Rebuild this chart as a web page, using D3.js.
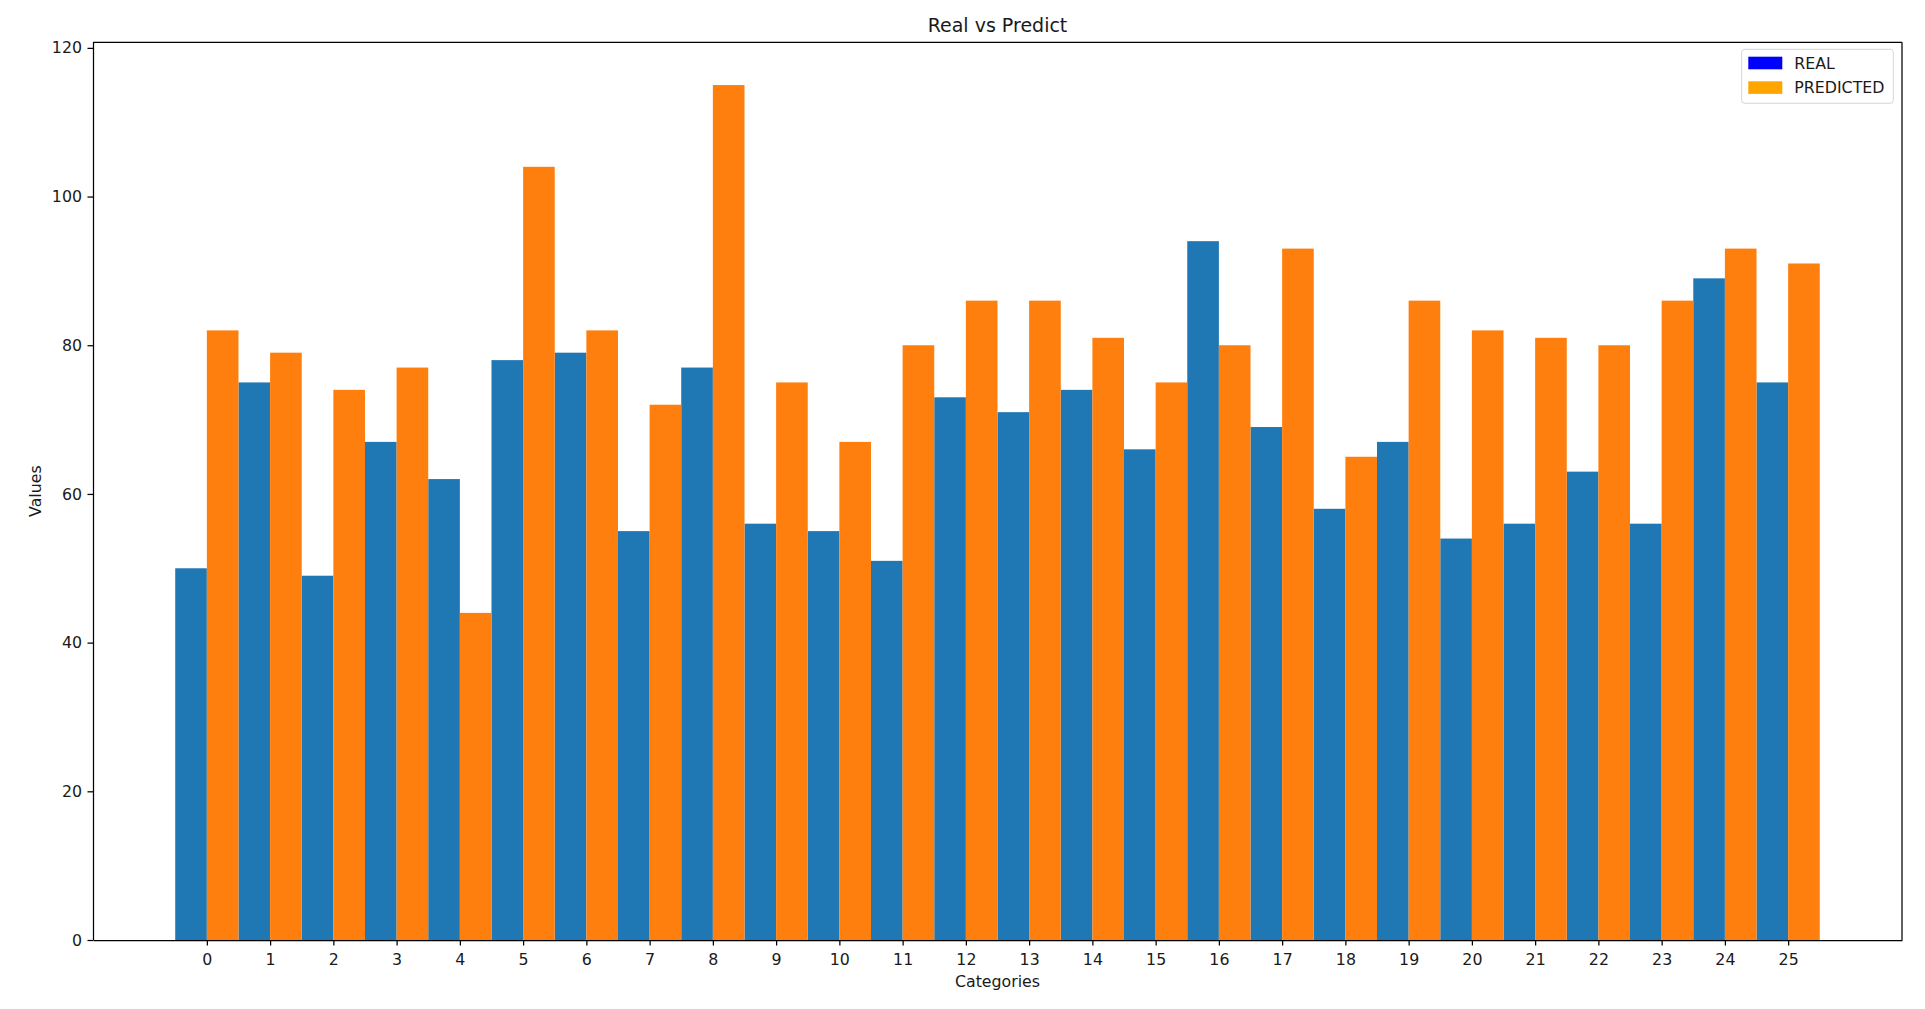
<!DOCTYPE html>
<html lang="en">
<head>
    <meta charset="UTF-8">
    <title>Real vs Predict</title>
    <script src="https://d3js.org/d3.v7.min.js"></script>
    <style>
        body {
            margin: 0;
            background: #fff;
            font-family: "DejaVu Sans", sans-serif;
        }
        .axis text {
            font-family: "DejaVu Sans", sans-serif;
            font-size: 15.8px;
            fill: #1a1a1a;
        }
        .axis path, .axis line {
            stroke: #000;
            stroke-width: 1.25px;
        }
        .label {
            font-size: 15.8px;
            fill: #1a1a1a;
        }
    </style>
</head>
<body>
    <div id="chart"></div>

    <script>
        const categories = [0, 1, 2, 3, 4, 5, 6, 7, 8, 9, 10, 11, 12, 13, 14, 15, 16, 17, 18, 19, 20, 21, 22, 23, 24, 25];
        const realValues = [50, 75, 49, 67, 62, 78, 79, 55, 77, 56, 55, 51, 73, 71, 74, 66, 94, 69, 58, 67, 54, 56, 63, 56, 89, 75];
        const predictedValues = [82, 79, 74, 77, 44, 104, 82, 72, 115, 75, 67, 80, 86, 86, 81, 75, 80, 93, 65, 86, 82, 81, 80, 86, 93, 91];
        const yTicks = [0, 20, 40, 60, 80, 100, 120];

        const W = 1925, H = 1009;
        const plotLeft = 93, plotRight = 1902, plotTop = 42.3, plotBottom = 940;

        const svg = d3.select('#chart')
            .append('svg')
            .attr('width', W)
            .attr('height', H);

        // matplotlib-style limits: 5% margin around the bars
        const x = d3.scaleLinear()
            .domain([-1.8, 26.8])
            .range([plotLeft, plotRight]);
        const y = d3.scaleLinear()
            .domain([0, 120.75])
            .range([plotBottom, plotTop]);

        // Bars: REAL on the left half, PREDICTED on the right half
        svg.append('g').selectAll('rect')
            .data(categories)
            .enter().append('rect')
            .attr('x', d => x(d - 0.5))
            .attr('y', (d, i) => y(realValues[i]))
            .attr('width', d => x(d) - x(d - 0.5))
            .attr('height', (d, i) => plotBottom - y(realValues[i]))
            .attr('fill', '#1f77b4');

        svg.append('g').selectAll('rect')
            .data(categories)
            .enter().append('rect')
            .attr('x', d => x(d))
            .attr('y', (d, i) => y(predictedValues[i]))
            .attr('width', d => x(d + 0.5) - x(d))
            .attr('height', (d, i) => plotBottom - y(predictedValues[i]))
            .attr('fill', '#ff7f0e');

        // Axes
        svg.append('g')
            .attr('class', 'axis')
            .attr('transform', `translate(0, ${plotBottom})`)
            .call(d3.axisBottom(x).tickValues(categories).tickSize(5.5).tickSizeOuter(0).tickPadding(8.3));
        svg.append('g')
            .attr('class', 'axis')
            .attr('transform', `translate(${plotLeft}, 0)`)
            .call(d3.axisLeft(y).tickValues(yTicks).tickSize(5.5).tickSizeOuter(0).tickPadding(5.5));

        // top and right spines
        svg.append('line')
            .attr('x1', plotLeft).attr('x2', plotRight).attr('y1', plotTop).attr('y2', plotTop)
            .attr('stroke', '#000').attr('stroke-width', 1.25);
        svg.append('line')
            .attr('x1', plotRight).attr('x2', plotRight).attr('y1', plotTop).attr('y2', plotBottom)
            .attr('stroke', '#000').attr('stroke-width', 1.25);

        // Title and axis labels
        svg.append('text')
            .attr('x', (plotLeft + plotRight) / 2)
            .attr('y', 32)
            .attr('text-anchor', 'middle')
            .style('font-size', '19px')
            .style('fill', '#1a1a1a')
            .text('Real vs Predict');
        svg.append('text')
            .attr('class', 'label')
            .attr('x', (plotLeft + plotRight) / 2)
            .attr('y', 987)
            .attr('text-anchor', 'middle')
            .text('Categories');
        svg.append('text')
            .attr('class', 'label')
            .attr('transform', 'rotate(-90)')
            .attr('x', -(plotTop + plotBottom) / 2)
            .attr('y', 40.5)
            .attr('text-anchor', 'middle')
            .text('Values');

        // Legend
        const legendItems = [
            { name: 'REAL', color: '#0000ff' },
            { name: 'PREDICTED', color: '#ffa500' }
        ];
        const legend = svg.append('g')
            .attr('transform', 'translate(1741.7, 49.3)');
        legend.append('rect')
            .attr('width', 151.6)
            .attr('height', 54)
            .attr('rx', 3)
            .attr('fill', '#fff')
            .attr('fill-opacity', 0.8)
            .attr('stroke', '#d6d6d6')
            .attr('stroke-width', 1);
        const item = legend.selectAll('.item')
            .data(legendItems)
            .enter().append('g')
            .attr('class', 'item')
            .attr('transform', (d, i) => `translate(0, ${i * 24.6})`);
        item.append('rect')
            .attr('x', 6.6)
            .attr('y', 7.4)
            .attr('width', 34)
            .attr('height', 12.6)
            .attr('fill', d => d.color);
        item.append('text')
            .attr('class', 'label')
            .attr('x', 52.6)
            .attr('y', 19.5)
            .text(d => d.name);
    </script>
</body>
</html>
